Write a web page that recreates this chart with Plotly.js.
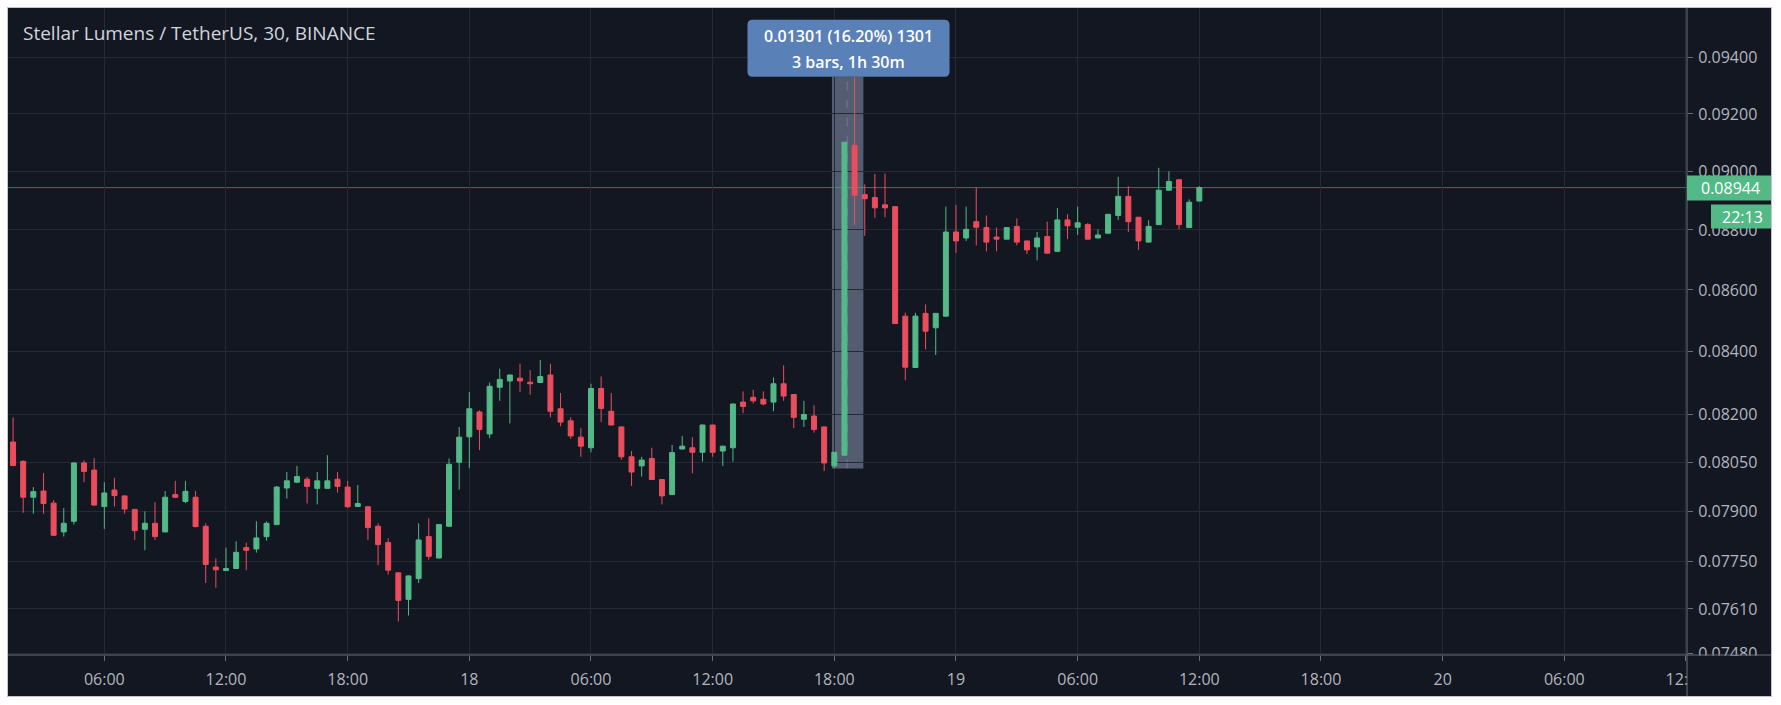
<!DOCTYPE html>
<html>
<head>
<meta charset="utf-8">
<script src="https://cdn.plot.ly/plotly-3.0.1.min.js"></script>
<style>
  html, body { margin: 0; padding: 0; background: #ffffff; width: 1781px; height: 705px; overflow: hidden; }
  #frame { position: absolute; left: 7px; top: 7px; width: 1763px; height: 688px; border: 1px solid #c4c4c4; background: #131722; }
  #chart { width: 1763px; height: 688px; }
</style>
</head>
<body>
<div id="frame"><div id="chart"></div></div>
<script>
// ---- data (30-minute candles, XLM/USDT, BINANCE) ----
const times = [
 "2020-11-17 01:30","2020-11-17 02:00","2020-11-17 02:30","2020-11-17 03:00","2020-11-17 03:30","2020-11-17 04:00","2020-11-17 04:30","2020-11-17 05:00","2020-11-17 05:30","2020-11-17 06:00",
 "2020-11-17 06:30","2020-11-17 07:00","2020-11-17 07:30","2020-11-17 08:00","2020-11-17 08:30","2020-11-17 09:00","2020-11-17 09:30","2020-11-17 10:00","2020-11-17 10:30","2020-11-17 11:00",
 "2020-11-17 11:30","2020-11-17 12:00","2020-11-17 12:30","2020-11-17 13:00","2020-11-17 13:30","2020-11-17 14:00","2020-11-17 14:30","2020-11-17 15:00","2020-11-17 15:30","2020-11-17 16:00",
 "2020-11-17 16:30","2020-11-17 17:00","2020-11-17 17:30","2020-11-17 18:00","2020-11-17 18:30","2020-11-17 19:00","2020-11-17 19:30","2020-11-17 20:00","2020-11-17 20:30","2020-11-17 21:00",
 "2020-11-17 21:30","2020-11-17 22:00","2020-11-17 22:30","2020-11-17 23:00","2020-11-17 23:30",
 "2020-11-18 00:00","2020-11-18 00:30","2020-11-18 01:00","2020-11-18 01:30","2020-11-18 02:00","2020-11-18 02:30","2020-11-18 03:00","2020-11-18 03:30","2020-11-18 04:00","2020-11-18 04:30",
 "2020-11-18 05:00","2020-11-18 05:30","2020-11-18 06:00","2020-11-18 06:30","2020-11-18 07:00","2020-11-18 07:30","2020-11-18 08:00","2020-11-18 08:30","2020-11-18 09:00","2020-11-18 09:30",
 "2020-11-18 10:00","2020-11-18 10:30","2020-11-18 11:00","2020-11-18 11:30","2020-11-18 12:00","2020-11-18 12:30","2020-11-18 13:00","2020-11-18 13:30","2020-11-18 14:00","2020-11-18 14:30",
 "2020-11-18 15:00","2020-11-18 15:30","2020-11-18 16:00","2020-11-18 16:30","2020-11-18 17:00","2020-11-18 17:30","2020-11-18 18:00","2020-11-18 18:30","2020-11-18 19:00","2020-11-18 19:30",
 "2020-11-18 20:00","2020-11-18 20:30","2020-11-18 21:00","2020-11-18 21:30","2020-11-18 22:00","2020-11-18 22:30","2020-11-18 23:00","2020-11-18 23:30",
 "2020-11-19 00:00","2020-11-19 00:30","2020-11-19 01:00","2020-11-19 01:30","2020-11-19 02:00","2020-11-19 02:30","2020-11-19 03:00","2020-11-19 03:30","2020-11-19 04:00","2020-11-19 04:30",
 "2020-11-19 05:00","2020-11-19 05:30","2020-11-19 06:00","2020-11-19 06:30","2020-11-19 07:00","2020-11-19 07:30","2020-11-19 08:00","2020-11-19 08:30","2020-11-19 09:00","2020-11-19 09:30",
 "2020-11-19 10:00","2020-11-19 10:30","2020-11-19 11:00","2020-11-19 11:30","2020-11-19 12:00"
];
const opens = [
 .08113,.08053,.07943,.07962,.07925,.07838,.07870,.08048,.08026,.07915,
 .07965,.07947,.07906,.07846,.07864,.07838,.07951,.07930,.07943,.07855,
 .07733,.07723,.07729,.07791,.07787,.07824,.07860,.07971,.07989,.07998,
 .07970,.07970,.07998,.07974,.07915,.07914,.07855,.07806,.07716,.07638,
 .07699,.07824,.07760,.07855,.08050,
 .08129,.08207,.08138,.08285,.08305,.08314,.08301,.08300,.08324,.08217,
 .08179,.08128,.08095,.08281,.08209,.08160,.08067,.08039,.08062,.07997,
 .07951,.08091,.08095,.08081,.08166,.08085,.08095,.08238,.08253,.08247,
 .08238,.08296,.08262,.08184,.08194,.08160,.08039,.08072,.09090,.08920,
 .08910,.08885,.08879,.08514,.08348,.08523,.08476,.08514,
 .08793,.08773,.08828,.08808,.08776,.08769,.08812,.08763,.08743,.08778,
 .08728,.08834,.08809,.08818,.08773,.08789,.08849,.08914,.08843,.08759,
 .08818,.08935,.08971,.08808,.08898
];
const highs = [
 .08190,.08056,.07974,.08017,.07934,.07910,.08050,.08056,.08063,.07989,
 .08002,.07948,.07907,.07900,.07928,.07962,.07993,.07993,.07962,.07864,
 .07759,.07791,.07810,.07806,.07870,.07870,.07977,.08020,.08039,.08005,
 .08020,.08072,.08020,.07993,.07980,.07915,.07864,.07819,.07717,.07708,
 .07864,.07879,.07861,.08062,.08160,
 .08270,.08212,.08300,.08344,.08325,.08360,.08340,.08372,.08360,.08267,
 .08190,.08156,.08296,.08319,.08267,.08161,.08085,.08067,.08095,.07998,
 .08104,.08132,.08128,.08167,.08167,.08101,.08233,.08272,.08277,.08272,
 .08316,.08355,.08263,.08242,.08228,.08161,.08082,.09101,.09332,.08955,
 .08991,.08992,.08881,.08525,.08525,.08552,.08524,.08879,
 .08885,.08879,.08944,.08849,.08808,.08809,.08839,.08764,.08793,.08828,
 .08874,.08853,.08879,.08823,.08802,.08854,.08981,.08949,.08844,.08833,
 .09012,.09000,.08972,.08904,.08949
];
const lows = [
 .08038,.07896,.07893,.07893,.07826,.07824,.07860,.07989,.07917,.07847,
 .07915,.07893,.07814,.07783,.07814,.07837,.07940,.07925,.07852,.07686,
 .07672,.07722,.07728,.07724,.07776,.07812,.07859,.07939,.07986,.07924,
 .07921,.07969,.07957,.07911,.07914,.07814,.07739,.07711,.07574,.07591,
 .07686,.07755,.07759,.07854,.07966,
 .08032,.08088,.08125,.08242,.08171,.08270,.08261,.08299,.08190,.08162,
 .08123,.08067,.08081,.08175,.08165,.08058,.07977,.08006,.07996,.07921,
 .07950,.08090,.08016,.08052,.08067,.08039,.08052,.08203,.08234,.08228,
 .08209,.08242,.08156,.08160,.08142,.08023,.08031,.08070,.08817,.08780,
 .08841,.08843,.08489,.08307,.08347,.08406,.08388,.08513,
 .08723,.08763,.08748,.08728,.08728,.08768,.08748,.08719,.08698,.08721,
 .08727,.08769,.08783,.08768,.08772,.08788,.08834,.08793,.08733,.08758,
 .08817,.08934,.08802,.08807,.08897
];
const closes = [
 .08040,.07943,.07960,.07924,.07828,.07864,.08048,.08022,.07919,.07956,
 .07948,.07907,.07842,.07864,.07824,.07943,.07943,.07961,.07854,.07741,
 .07725,.07729,.07777,.07783,.07820,.07864,.07974,.07993,.08006,.07976,
 .07993,.07993,.07976,.07914,.07924,.07851,.07800,.07724,.07635,.07707,
 .07814,.07765,.07860,.08044,.08128,
 .08217,.08152,.08288,.08310,.08324,.08305,.08296,.08319,.08209,.08175,
 .08132,.08100,.08281,.08218,.08166,.08067,.08020,.08057,.07997,.07947,
 .08080,.08100,.08081,.08166,.08081,.08100,.08232,.08224,.08242,.08232,
 .08296,.08257,.08190,.08199,.08152,.08048,.08081,.09101,.08918,.08906,
 .08875,.08875,.08490,.08349,.08514,.08465,.08523,.08793,
 .08763,.08802,.08809,.08759,.08769,.08808,.08759,.08733,.08773,.08722,
 .08834,.08814,.08824,.08769,.08783,.08853,.08914,.08828,.08763,.08812,
 .08935,.08965,.08818,.08894,.08944
];
const xTickVals = ["2020-11-17 06:00","2020-11-17 12:00","2020-11-17 18:00","2020-11-18 00:00","2020-11-18 06:00","2020-11-18 12:00","2020-11-18 18:00","2020-11-19 00:00","2020-11-19 06:00","2020-11-19 12:00","2020-11-19 18:00","2020-11-20 00:00","2020-11-20 06:00","2020-11-20 12:00"];
const xTickText = ["06:00","12:00","18:00","18","06:00","12:00","18:00","19","06:00","12:00","18:00","20","06:00","12:00"];
const yTickVals = [0.0748,0.0761,0.0775,0.0790,0.0805,0.0820,0.0840,0.0860,0.0880,0.0900,0.0920,0.0940];
const yTickText = ["0.07480","0.07610","0.07750","0.07900","0.08050","0.08200","0.08400","0.08600","0.08800","0.09000","0.09200","0.09400"];
const chartTitle = "Stellar Lumens / TetherUS, 30, BINANCE";
const countdown = "22:13";
const measureFrom = "2020-11-18 18:00";   // bar holding the low
const measureTo = "2020-11-18 19:00";     // bar holding the high
const measureBars = "3 bars, 1h 30m";

// ---- derived ----
const L = Math.log10;
const yRange = [L(0.074768), L(0.095815)];
const py = p => (L(p) - yRange[0]) / (yRange[1] - yRange[0]);   // price -> paper fraction
const lastClose = closes[closes.length - 1];
const iFrom = times.indexOf(measureFrom), iTo = times.indexOf(measureTo);
const mLow = lows[iFrom], mHigh = highs[iTo];
const diff = mHigh - mLow;
const pct = diff / mLow * 100;
const measureText = diff.toFixed(5) + " (" + pct.toFixed(2) + "%) " + Math.round(diff * 100000);

const BG = "#131722", GRID = "#262a35", SEP = "#6b6e79", TXT = "#b2b5be";
const GREEN = "#53b987", RED = "#eb4d5c";
const FONT = "Open Sans, Noto Sans, sans-serif";

const trace = {
  type: "candlestick",
  x: times, open: opens, high: highs, low: lows, close: closes,
  increasing: { line: { color: GREEN, width: 1 }, fillcolor: GREEN },
  decreasing: { line: { color: RED, width: 1 }, fillcolor: RED },
  whiskerwidth: 0,
  hoverinfo: "skip",
  showlegend: false
};

const roundRect = "M -96 0 L 96 0 Q 101 0 101 5 L 101 52 Q 101 57 96 57 L -96 57 Q -101 57 -101 52 L -101 5 Q -101 0 -96 0 Z";

const layout = {
  width: 1763, height: 688,
  margin: { l: 0, r: 84, t: 0, b: 41 },
  paper_bgcolor: BG, plot_bgcolor: BG,
  font: { family: FONT, color: TXT, size: 16 },
  showlegend: false,
  boxgap: 0.3,
  xaxis: {
    type: "date",
    range: ["2020-11-17 01:15", "2020-11-20 12:03"],
    rangeslider: { visible: false },
    tickmode: "array", tickvals: xTickVals, ticktext: xTickText,
    showgrid: true, gridcolor: GRID, gridwidth: 1,
    showline: false, zeroline: false,
    ticks: "outside", ticklen: 5, tickcolor: SEP,
    tickfont: { family: FONT, size: 16, color: TXT },
    ticklabelstandoff: 5,
    fixedrange: true
  },
  yaxis: {
    type: "log", side: "right",
    range: yRange,
    tickmode: "array", tickvals: yTickVals, ticktext: yTickText,
    showgrid: true, gridcolor: GRID, gridwidth: 1,
    showline: false, zeroline: false,
    ticks: "outside", ticklen: 5, tickcolor: SEP,
    tickfont: { family: FONT, size: 16, color: TXT },
    ticklabelstandoff: 2,
    fixedrange: true
  },
  shapes: [
    // measuring range (under the candles)
    { type: "rect", layer: "below", xref: "x", yref: "paper",
      x0: "2020-11-18 17:53", x1: "2020-11-18 19:26", y0: py(mLow), y1: py(mHigh),
      fillcolor: "rgba(122,136,162,0.62)", line: { width: 0 } },
    { type: "line", layer: "below", xref: "x", yref: "paper",
      x0: "2020-11-18 18:38", x1: "2020-11-18 18:38", y0: py(mLow), y1: py(mHigh),
      line: { color: "rgba(170,180,200,0.35)", width: 1, dash: "dash" } },
    // last price line
    { type: "line", layer: "below", xref: "paper", yref: "paper",
      x0: 0, x1: 1, y0: py(lastClose), y1: py(lastClose),
      line: { color: "rgba(83,185,135,0.6)", width: 1 } },
    // bottom-right corner cover & separators
    { type: "rect", layer: "above", xref: "paper", yref: "paper",
      x0: 1.0004, x1: 1.07, y0: -0.08, y1: -0.001, fillcolor: BG, line: { width: 0 } },
    { type: "line", layer: "above", xref: "paper", yref: "paper",
      x0: 0, x1: 1.07, y0: 0, y1: 0, line: { color: SEP, width: 1 } },
    { type: "line", layer: "above", xref: "paper", yref: "paper",
      x0: 1, x1: 1, y0: -0.08, y1: 1, line: { color: SEP, width: 1 } },
    // last price box and countdown box
    { type: "rect", layer: "above", xref: "paper", yref: "paper",
      xsizemode: "pixel", xanchor: 1, x0: 0, x1: 84,
      ysizemode: "pixel", yanchor: py(lastClose), y0: -13, y1: 12,
      fillcolor: GREEN, line: { width: 0 } },
    { type: "rect", layer: "above", xref: "paper", yref: "paper",
      xsizemode: "pixel", xanchor: 1, x0: 24, x1: 84,
      ysizemode: "pixel", yanchor: py(lastClose), y0: -41, y1: -17,
      fillcolor: GREEN, line: { width: 0 } },
    // measuring tooltip
    { type: "path", layer: "above", xref: "x", yref: "paper",
      xsizemode: "pixel", xanchor: "2020-11-18 18:42",
      ysizemode: "pixel", yanchor: py(mHigh),
      path: roundRect, fillcolor: "#5a80b8", line: { width: 0 } }
  ],
  annotations: [
    { text: chartTitle, xref: "paper", yref: "paper", x: 0.0075, y: 0.9614,
      xanchor: "left", yanchor: "middle", showarrow: false,
      font: { family: FONT, size: 19, color: "#d1d4dc" } },
    { text: lastClose.toFixed(5), xref: "paper", yref: "paper", x: 1, y: py(lastClose),
      xanchor: "center", yanchor: "middle", xshift: 43, yshift: 0, showarrow: false,
      font: { family: FONT, size: 16, color: "#ffffff" } },
    { text: countdown, xref: "paper", yref: "paper", x: 1, y: py(lastClose),
      xanchor: "center", yanchor: "middle", xshift: 55, yshift: -29, showarrow: false,
      font: { family: FONT, size: 16, color: "#ffffff" } },
    { text: measureText, xref: "x", yref: "paper", x: "2020-11-18 18:42", y: py(mHigh),
      xanchor: "center", yanchor: "middle", yshift: 41, showarrow: false,
      font: { family: FONT, size: 16, color: "#ffffff", weight: 600 } },
    { text: measureBars, xref: "x", yref: "paper", x: "2020-11-18 18:42", y: py(mHigh),
      xanchor: "center", yanchor: "middle", yshift: 15, showarrow: false,
      font: { family: FONT, size: 16, color: "#ffffff", weight: 600 } }
  ]
};

Plotly.newPlot("chart", [trace], layout, { staticPlot: true, displayModeBar: false });
</script>
</body>
</html>
